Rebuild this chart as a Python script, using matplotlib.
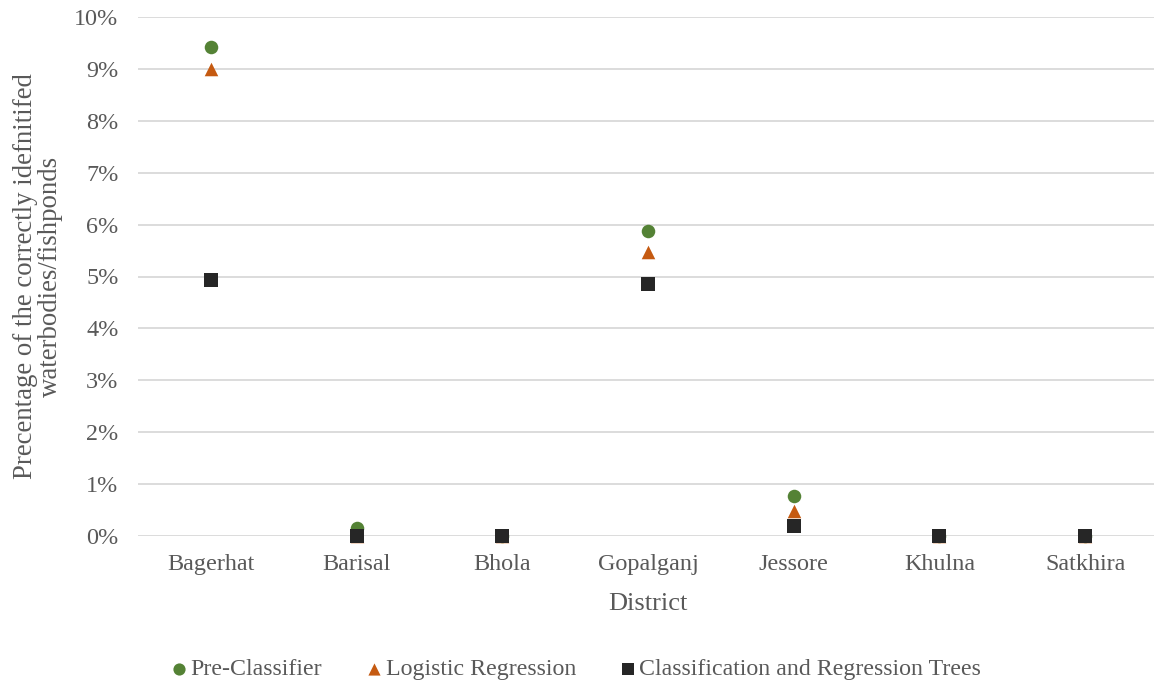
import matplotlib
matplotlib.use("Agg")
import matplotlib.pyplot as plt
from matplotlib.ticker import FuncFormatter

districts = ["Bagerhat", "Barisal", "Bhola", "Gopalganj", "Jessore", "Khulna", "Satkhira"]
pre_classifier = [9.42, 0.15, 0.0, 5.88, 0.77, 0.0, 0.0]
logistic_regression = [9.00, 0.0, 0.0, 5.47, 0.48, 0.0, 0.0]
cart = [4.93, 0.0, 0.0, 4.86, 0.19, 0.0, 0.0]
y_ticks = list(range(0, 11))

plt.rcParams['font.family'] = ['Liberation Serif', 'DejaVu Serif']

fig = plt.figure(figsize=(11.54, 6.86), dpi=100)
ax = fig.add_axes([138/1154, 1-536/686, (1158-138)/1154, (536-17)/686])

x = list(range(len(districts)))
ax.scatter(x, pre_classifier, marker='o', s=95, color='#548235', zorder=3,
           label='Pre-Classifier', linewidths=0, clip_on=False)
ax.scatter(x, logistic_regression, marker='^', s=95, color='#C55A11', zorder=4,
           label='Logistic Regression', linewidths=0, clip_on=False)
ax.scatter(x, cart, marker='s', s=100, color='#262626', zorder=5,
           label='Classification and Regression Trees', linewidths=0, clip_on=False)

ax.set_xlim(-0.5, len(districts) - 0.5)
ax.set_ylim(0, 10)
ax.set_yticks(y_ticks)
ax.yaxis.set_major_formatter(FuncFormatter(lambda v, p: f"{int(v)}%"))
ax.set_xticks(x)
ax.set_xticklabels(districts)
ax.grid(axis='y', color='#D9D9D9', linewidth=1.3, zorder=0)
ax.set_axisbelow(True)
for s in ax.spines.values():
    s.set_visible(False)
ax.tick_params(axis='both', length=0, labelsize=17.4, colors='#595959')
ax.tick_params(axis='y', pad=14)
ax.tick_params(axis='x', pad=13)

ax.set_xlabel("District", fontsize=19, color='#595959', labelpad=13)
ax.set_ylabel("Precentage of the correctly idefnitifed\nwaterbodies/fishponds",
              fontsize=19.3, color='#595959', labelpad=8, linespacing=1.0)

leg = fig.legend(loc='center', bbox_to_anchor=(0.5, 1 - 669/686), ncol=3, frameon=False,
                 fontsize=17.2, handlelength=0.55, handletextpad=0.2, columnspacing=1.9,
                 markerscale=0.9)
for t in leg.get_texts():
    t.set_color('#595959')

fig.savefig("out.png", dpi=100)
